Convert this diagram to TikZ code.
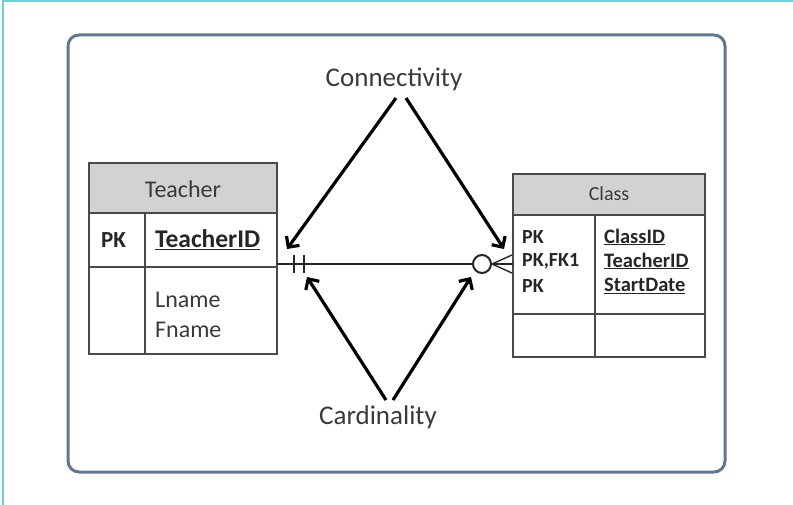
\documentclass[tikz,border=0pt]{standalone}
\usepackage{fontspec}
\setmainfont{Carlito}
\usetikzlibrary{arrows.meta}
\definecolor{cyanline}{HTML}{6FD0D8}
\definecolor{framecol}{HTML}{5F7891}
\definecolor{headgray}{HTML}{D2D2D2}
\definecolor{tblline}{HTML}{4A4A4A}
\definecolor{txtgray}{HTML}{3A3A3A}
\begin{document}
\begin{tikzpicture}[x=1pt,y=-1pt,
  frame/.style={draw=framecol,line width=3pt,rounded corners=11pt},
  tbl/.style={draw=tblline,line width=1.6pt},
  big/.style={font=\fontsize{27}{30}\selectfont,text=txtgray,inner sep=0pt},
  ttxt/.style={font=\fontsize{24}{28}\selectfont,text=txtgray,inner sep=0pt,anchor=west},
  ctxt/.style={font=\fontsize{20}{24}\selectfont,text=txtgray,inner sep=0pt,anchor=west},
  bigarrow/.style={line width=3.2pt,-{Straight Barb[length=8pt,width=16pt]}},
  relline/.style={draw=black!85,line width=2pt},
  thin/.style={draw=black!85,line width=1.4pt}]
\useasboundingbox (0,0) rectangle (793,505);
\fill[white] (0,0) rectangle (793,505);
\draw[cyanline,line width=2pt] (3,505) -- (3,1.5) -- (793,1.5);
\draw[frame] (68,35) rectangle (725,472);

% Teacher table
\draw[tbl,fill=headgray] (89,163) rectangle (277,213);
\draw[tbl] (89,213) rectangle (277,354);
\draw[tbl] (89,267) -- (277,267);
\draw[tbl] (145,213) -- (145,354);
\node[ttxt,anchor=center] (tname) at (183,189) {Teacher};
\node[ttxt,font=\fontsize{23}{28}\selectfont\bfseries,text=black!85] (tpk) at (101,240) {PK};
\node[ttxt,font=\fontsize{25.5}{28}\selectfont\bfseries,text=black!85] (tid) at (155,240) {\underline{TeacherID}};
\node[ttxt] (tln) at (155,300) {Lname};
\node[ttxt] (tfn) at (155,330) {Fname};

% Class table
\draw[tbl,fill=headgray] (513,174) rectangle (705,215);
\draw[tbl] (513,215) rectangle (705,357);
\draw[tbl] (513,314) -- (705,314);
\draw[tbl] (595,215) -- (595,357);
\node[ctxt,anchor=center] (cname) at (609,194) {Class};
\node[ctxt,font=\fontsize{20}{24}\selectfont\bfseries,text=black!85] (cpk1) at (522,237) {PK};
\node[ctxt,font=\fontsize{20}{24}\selectfont\bfseries,text=black!85] (cpk2) at (522,261) {PK,FK1};
\node[ctxt,font=\fontsize{20}{24}\selectfont\bfseries,text=black!85] (cpk3) at (522,286) {PK};
\node[ctxt,font=\fontsize{20.5}{24}\selectfont\bfseries,text=black!85] (cid) at (604,237) {\underline{ClassID}};
\node[ctxt,font=\fontsize{20.5}{24}\selectfont\bfseries,text=black!85] (ctid) at (604,261) {\underline{TeacherID}};
\node[ctxt,font=\fontsize{20.5}{24}\selectfont\bfseries,text=black!85] (csd) at (604,286) {\underline{StartDate}};

% Relationship
\coordinate (tR) at (277,264);
\coordinate (cL) at (513,264);
\draw[relline] (tR) -- (cL);
\draw[relline,line width=2.4pt] (294,255) -- (294,273);
\draw[relline,line width=2.4pt] (304,255) -- (304,273);
\node[circle,draw=black!85,fill=white,line width=2pt,minimum size=18pt,inner sep=0pt] (zc) at (482,264) {};
\coordinate (cf1) at (512,255);
\coordinate (cf2) at (512,264);
\coordinate (cf3) at (512,273);
\draw[thin] (zc.east) -- (cf1);
\draw[thin] (zc.east) -- (cf2);
\draw[thin] (zc.east) -- (cf3);

% Labels and arrows
\node[big] (conn) at (394,79) {Connectivity};
\node[big] (card) at (378,417) {Cardinality};
\coordinate (cs1) at (396,98);
\coordinate (cs2) at (406,98);
\coordinate (ct1) at (287,249);
\coordinate (ct2) at (504,249);
\coordinate (ds1) at (386,400);
\coordinate (ds2) at (393,400);
\coordinate (dt1) at (307,277);
\coordinate (dt2) at (471,277);
\draw[bigarrow] (cs1) -- (ct1);
\draw[bigarrow] (cs2) -- (ct2);
\draw[bigarrow] (ds1) -- (dt1);
\draw[bigarrow] (ds2) -- (dt2);
\end{tikzpicture}
\end{document}
